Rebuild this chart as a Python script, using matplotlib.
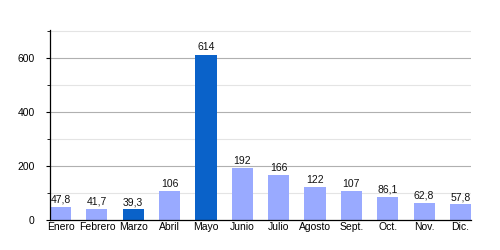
import matplotlib.pyplot as plt
import numpy as np

meses = ['Enero', 'Febrero', 'Marzo', 'Abril', 'Mayo', 'Junio', 'Julio',
         'Agosto', 'Sept.', 'Oct.', 'Nov.', 'Dic.']
valores = [47.8, 41.7, 39.3, 106, 614, 192, 166, 122, 107, 86.1, 62.8, 57.8]
etiquetas = ['47,8', '41,7', '39,3', '106', '614', '192', '166',
             '122', '107', '86,1', '62,8', '57,8']
destacados = ['Marzo', 'Mayo']

plt.rcParams['font.family'] = ['Liberation Sans', 'DejaVu Sans']

claro = '#99aaff'
oscuro = '#0a62c9'
colores = [oscuro if m in destacados else claro for m in meses]

fig = plt.figure(figsize=(5, 2.5), dpi=100)
ax = fig.add_axes([0.1, 0.12, 0.842, 0.76])

x = np.arange(len(meses))
ax.set_axisbelow(True)
for y in range(100, 800, 100):
    c = '#b0b0b0' if y % 200 == 0 else '#e4e4e4'
    ax.axhline(y, color=c, lw=0.8, zorder=0)

ax.bar(x, valores, width=0.58, color=colores, zorder=2)
for xi, v, t in zip(x, valores, etiquetas):
    ax.text(xi, v + 8, t, ha='center', va='bottom', fontsize=7.5, color='#111111')

ax.set_xlim(-0.29, len(meses) - 1 + 0.29)
ax.set_ylim(0, 705)
ax.set_xticks(x)
ax.set_xticklabels(meses, fontsize=7.5)
ax.set_yticks([0, 200, 400, 600])
ax.set_yticks([100, 300, 500, 700], minor=True)
ax.tick_params(axis='y', labelsize=7.5, length=3, width=0.8, pad=8)
ax.tick_params(axis='y', which='minor', length=2, width=0.6)
ax.tick_params(axis='x', length=0, pad=1.5)
ax.spines['top'].set_visible(False)
ax.spines['right'].set_visible(False)
ax.spines['left'].set_linewidth(0.9)
ax.spines['bottom'].set_linewidth(0.9)

fig.savefig('out.png', dpi=100)
